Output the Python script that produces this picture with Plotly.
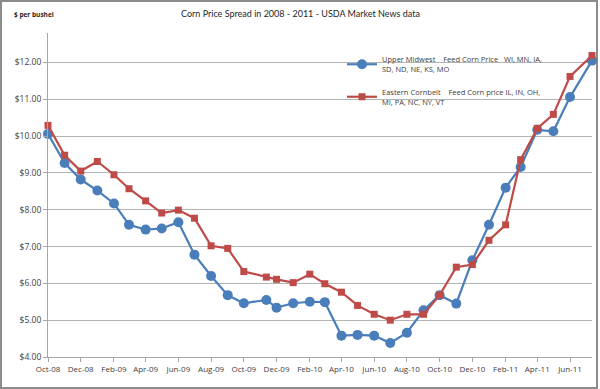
import plotly.graph_objects as go

dates = [
    "2008-10-01", "2008-11-01", "2008-12-01", "2009-01-01", "2009-02-01", "2009-03-01",
    "2009-04-01", "2009-05-01", "2009-06-01", "2009-07-01", "2009-08-01", "2009-09-01",
    "2009-10-01", "2009-11-12", "2009-12-01", "2010-01-01", "2010-02-01", "2010-03-01",
    "2010-04-01", "2010-05-01", "2010-06-01", "2010-07-01", "2010-08-01", "2010-09-01",
    "2010-10-01", "2010-11-01", "2010-12-01", "2011-01-01", "2011-02-01", "2011-03-01",
    "2011-04-01", "2011-05-01", "2011-06-01", "2011-07-12",
]

upper_midwest = [
    10.06, 9.27, 8.82, 8.52, 8.17, 7.59, 7.46, 7.49, 7.66, 6.78, 6.20, 5.68,
    5.46, 5.55, 5.34, 5.46, 5.50, 5.49, 4.58, 4.60, 4.58, 4.38, 4.66, 5.27,
    5.68, 5.45, 6.63, 7.59, 8.60, 9.16, 10.17, 10.13, 11.06, 12.05,
]

eastern_cornbelt = [
    10.29, 9.48, 9.05, 9.31, 8.95, 8.57, 8.24, 7.91, 7.99, 7.77, 7.02, 6.95,
    6.32, 6.17, 6.11, 6.02, 6.25, 5.99, 5.76, 5.40, 5.16, 5.00, 5.16, 5.16,
    5.68, 6.44, 6.51, 7.17, 7.59, 9.36, 10.21, 10.59, 11.62, 12.19,
]

y_ticks = [4, 5, 6, 7, 8, 9, 10, 11, 12]

name_um = "Upper Midwest    Feed Corn Price   WI, MN, IA,<br>SD, ND, NE, KS, MO"
name_ec = "Eastern Cornbelt    Feed Corn price IL, IN, OH,<br>MI, PA, NC, NY, VT"

BLUE = "#4a7ebb"
RED = "#be4b48"
FONT = "Open Sans"

fig = go.Figure()
fig.add_trace(go.Scatter(
    x=dates, y=upper_midwest, name=name_um, mode="lines+markers",
    line=dict(color=BLUE, width=2.2),
    marker=dict(symbol="circle", size=10, color=BLUE),
    cliponaxis=False, legendgroup="a",
))
fig.add_trace(go.Scatter(
    x=dates, y=eastern_cornbelt, name=name_ec, mode="lines+markers",
    line=dict(color=RED, width=2.2),
    marker=dict(symbol="square", size=7, color=RED),
    cliponaxis=False, legendgroup="b",
))

L, R, T, B = 48, 8, 33, 32
W, H = 600, 389
pw, ph = W - L - R, H - T - B

def px(xp):
    return (xp - L) / pw

def py(yp):
    return (H - B - yp) / ph

fig.update_layout(
    width=W, height=H,
    margin=dict(l=L, r=R, t=T, b=B),
    paper_bgcolor="white", plot_bgcolor="white",
    font=dict(family=FONT, size=9, color="#404040"),
    showlegend=True,
    legend=dict(
        x=px(342), y=py(48), xanchor="left", yanchor="top",
        bgcolor="rgba(0,0,0,0)", font=dict(size=7.5, color="#404040", family=FONT),
        tracegroupgap=10, itemwidth=30,
    ),
    xaxis=dict(
        type="date", range=["2008-10-01", "2011-07-12"],
        tick0="2008-10-01", dtick="M2", tickformat="%b-%y",
        showgrid=False, showline=True, linecolor="#a6a6a6", linewidth=1,
        ticks="outside", ticklen=4, tickcolor="#a6a6a6",
        tickfont=dict(size=8, color="#404040"), zeroline=False,
    ),
    yaxis=dict(
        range=[4, 12.8], tickvals=y_ticks, tickformat="$.2f",
        showgrid=True, gridcolor="#b3b3b3", gridwidth=1,
        showline=True, linecolor="#a6a6a6", linewidth=1,
        ticks="outside", ticklen=4, tickcolor="#a6a6a6",
        tickfont=dict(size=8.5, color="#404040"), zeroline=False,
    ),
    annotations=[
        dict(text="Corn Price Spread in 2008 - 2011 - USDA Market News data",
             xref="paper", yref="paper", x=px(300), y=py(14), xanchor="center", yanchor="middle",
             showarrow=False, font=dict(size=9, color="#262626", family="Lato")),
        dict(text="<b>$ per bushel</b>",
             xref="paper", yref="paper", x=px(12), y=py(15), xanchor="left", yanchor="middle",
             showarrow=False, font=dict(size=6.5, color="#262626", family=FONT)),
    ],
    shapes=[
        dict(type="rect", xref="paper", yref="paper",
             x0=px(1), x1=px(597), y0=py(388), y1=py(1),
             line=dict(color="#8c8c8c", width=2), fillcolor="rgba(0,0,0,0)", layer="below"),
    ],
)

fig.write_html(
    "out.html",
    config={"displayModeBar": False},
    post_script="document.body.style.margin='0';document.body.style.overflow='hidden';",
)
